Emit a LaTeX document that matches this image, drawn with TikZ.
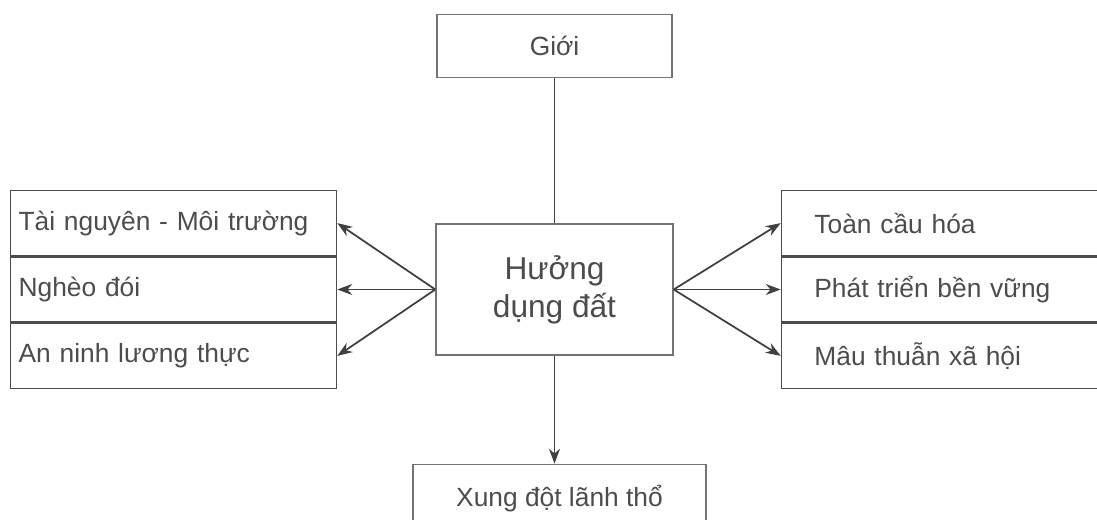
\documentclass[tikz,border=0pt]{standalone}
\usepackage{fontspec}
\setmainfont{Liberation Sans}
\usetikzlibrary{arrows.meta, positioning}

\begin{document}
\begin{tikzpicture}[thick, >={Stealth[length=3mm, width=2.2mm]}, font=\fontsize{15}{18}\selectfont]

		\useasboundingbox (0,0) rectangle (21.94,10.4);

		% Define styles
		\tikzstyle{box} = [rectangle, draw=black!55, line width=0.8pt, text=black!70, inner sep=0pt]
		\tikzstyle{leftrow} = [box, draw=black!70, minimum width=6.52cm, minimum height=1.3cm, text width=6.2cm, align=left]
		\tikzstyle{rightrow} = [box, draw=black!70, minimum width=6.8cm, minimum height=1.3cm, text width=5.48cm, align=left]
		\tikzstyle{link} = [draw=black!75, line width=1pt]

		% Nodes
		\node[box, minimum width=4.74cm, minimum height=2.62cm, align=center, font=\fontsize{18}{21.6}\selectfont] (luse) at (11.09,4.61) {Hưởng\\dụng đất};
		\node[box, above=2.9cm of luse, minimum width=4.7cm, minimum height=1.26cm] (gioi) {Giới};
		\node[box, below=2.16cm of luse, xshift=0.1cm, minimum width=5.86cm, minimum height=1.4cm] (xungdot) {\raisebox{0.16cm}{Xung đột lãnh thổ}};

		% Left stack
		\node[leftrow, left=1.96cm of luse] (ngheodoi) {Nghèo đói};
		\node[leftrow, above=0pt of ngheodoi] (tainguyen) {Tài nguyên - Môi trường};
		\node[leftrow, below=0pt of ngheodoi] (anninh) {An ninh lương thực};

		% Right stack
		\node[rightrow, right=2.14cm of luse] (phattrien) {Phát triển bền vững};
		\node[rightrow, above=0pt of phattrien] (toancau) {Toàn cầu hóa};
		\node[rightrow, below=0pt of phattrien] (mauthuan) {Mâu thuẫn xã hội};

		% Arrows
		\draw[link] (luse.north) -- (gioi.south);
		\draw[link, ->] (luse.south) -- (xungdot.north -| luse.south);
		\draw[link, ->] (luse.west) -- (tainguyen.east);
		\draw[link, ->] (luse.west) -- (ngheodoi.east);
		\draw[link, ->] (luse.west) -- (anninh.east);
		\draw[link, ->] (luse.east) -- (toancau.west);
		\draw[link, ->] (luse.east) -- (phattrien.west);
		\draw[link, ->] (luse.east) -- (mauthuan.west);

\end{tikzpicture}
\end{document}
